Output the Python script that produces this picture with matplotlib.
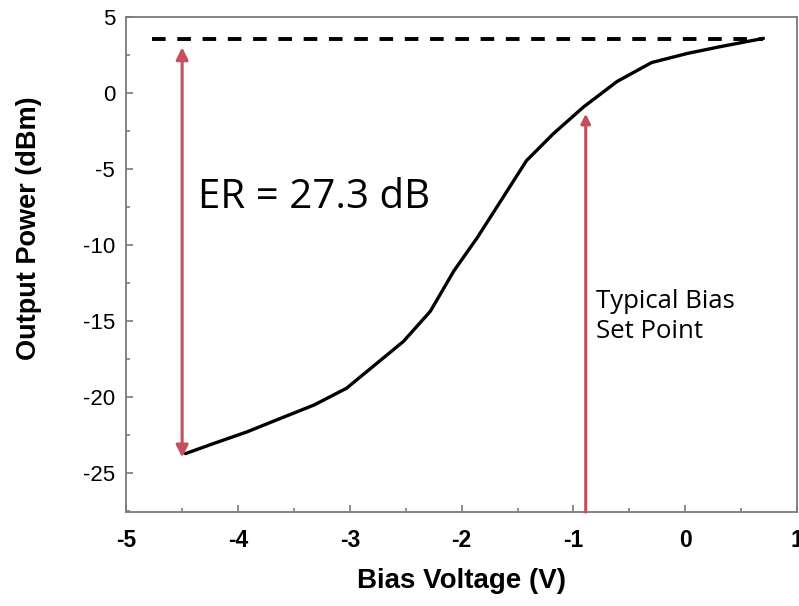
import matplotlib
matplotlib.use("Agg")
import matplotlib.pyplot as plt
from matplotlib.ticker import MultipleLocator

plt.rcParams['axes.unicode_minus'] = False

# Data
bias_v = [-4.47, -4.22, -3.92, -3.62, -3.32, -3.03, -2.84, -2.52, -2.28, -2.07,
          -1.86, -1.64, -1.42, -1.18, -0.91, -0.61, -0.30, 0.02, 0.31, 0.70]
power_dbm = [-23.75, -23.09, -22.32, -21.43, -20.55, -19.45, -18.3, -16.36, -14.38, -11.73,
             -9.53, -7.0, -4.46, -2.69, -0.93, 0.75, 2.0, 2.6, 3.04, 3.59]
max_level = 3.55
er_x = -4.5
er_bottom = -24.0
bias_point_x = -0.89
bias_point_tip = -1.37
xticks = [-5, -4, -3, -2, -1, 0, 1]
yticks = [5, 0, -5, -10, -15, -20, -25]

red = '#C4505C'
grey = '#7a7a7a'

fig = plt.figure(figsize=(7.99, 6.06), dpi=100)
ax = fig.add_axes([0.158, 0.155, 0.8395, 0.817])

ax.plot(bias_v, power_dbm, color='black', lw=2.4, solid_capstyle='round',
        solid_joinstyle='round', zorder=3)
ax.plot([-4.77, 0.7], [max_level, max_level], color='black', lw=2.8,
        dashes=(3.5, 3.0), zorder=2)

ax.annotate('', xy=(er_x, er_bottom), xytext=(er_x, max_level - 0.55),
            arrowprops=dict(arrowstyle='<|-|>', color=red, lw=2.2,
                            mutation_scale=18, shrinkA=0, shrinkB=0))
ax.annotate('', xy=(bias_point_x, bias_point_tip), xytext=(bias_point_x, -27.6),
            arrowprops=dict(arrowstyle='-|>', color=red, lw=2.2,
                            mutation_scale=14, shrinkA=0, shrinkB=0))

ax.text(-4.36, -6.9, 'ER = 27.3 dB', fontsize=29, family='Open Sans',
        va='center', ha='left')
ax.text(-0.8, -14.7, 'Typical Bias\nSet Point', fontsize=18.5, family='Open Sans',
        va='center', ha='left', linespacing=1.25)

ax.set_xlim(-5, 1)
ax.set_ylim(-27.6, 5)
ax.set_xticks(xticks)
ax.set_yticks(yticks)
ax.xaxis.set_minor_locator(MultipleLocator(0.5))
ax.yaxis.set_minor_locator(MultipleLocator(2.5))
ax.tick_params(which='both', direction='in', color=grey, width=1.2)
ax.tick_params(which='major', length=5)
ax.tick_params(which='minor', length=3)
ax.tick_params(axis='x', pad=12)
ax.tick_params(axis='y', pad=8)
for lab in ax.get_xticklabels():
    lab.set_family('Liberation Sans')
    lab.set_fontsize(16.5)
    lab.set_fontweight('bold')
for lab in ax.get_yticklabels():
    lab.set_family('Liberation Sans')
    lab.set_fontsize(16)
for s in ax.spines.values():
    s.set_color(grey)
    s.set_linewidth(1.3)

ax.set_xlabel('Bias Voltage (V)', fontsize=20, fontweight='bold',
              family='Liberation Sans', labelpad=12)
ax.set_ylabel('Output Power (dBm)', fontsize=19.5, fontweight='bold',
              family='Liberation Sans', va='center')
ax.yaxis.set_label_coords(-0.145, 0.574)

fig.savefig('out.png', dpi=100)
